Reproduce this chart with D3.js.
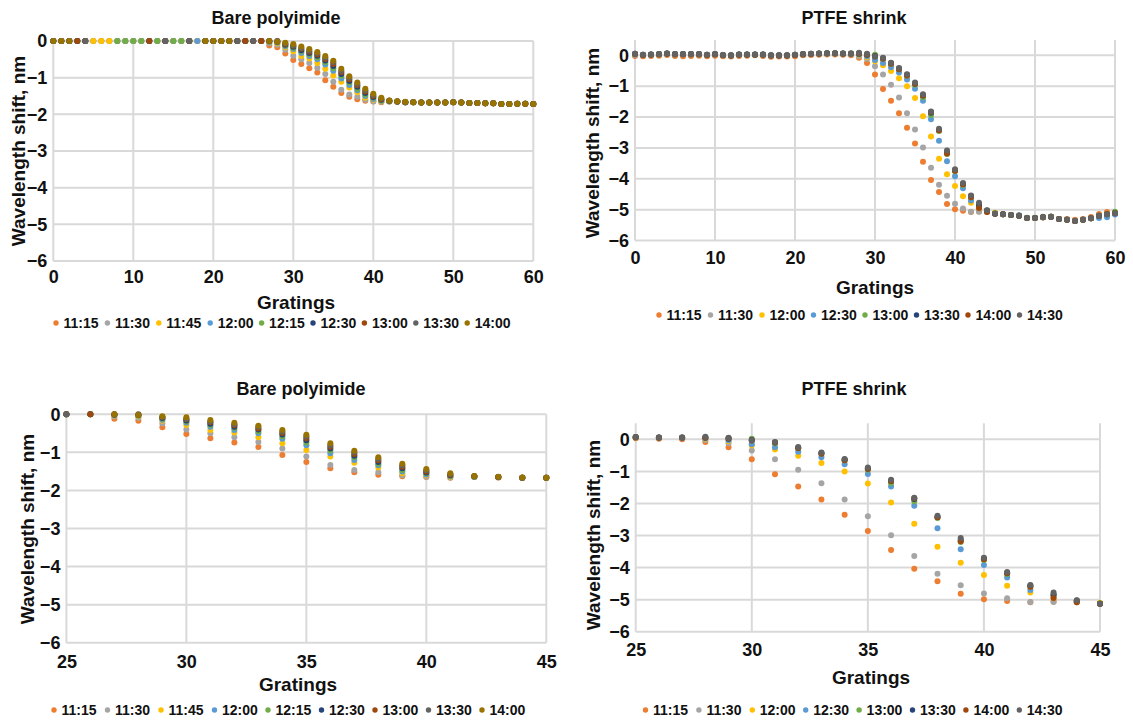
<!DOCTYPE html>
<html>
<head>
<meta charset="utf-8">
<script src="https://cdn.jsdelivr.net/npm/d3@7"></script>
<style>
  body { margin: 0; background: #fff; }
  svg text { font-family: "Liberation Sans", Arial, Helvetica, sans-serif; font-weight: bold; fill: #111; }
</style>
</head>
<body>
<svg id="chart" width="1133" height="721"></svg>
<script>
// ---- grating index (x) ----
const gratings = d3.range(0, 61);

// ---- tick values ----
const fullXTicks = [0, 10, 20, 30, 40, 50, 60];
const zoomXTicks = [25, 30, 35, 40, 45];
const shiftTicks = [-6, -5, -4, -3, -2, -1, 0];

// ---- Bare polyimide: wavelength shift (nm) per grating, one array per time ----
const bareTimes = ["11:15", "11:30", "11:45", "12:00", "12:15", "12:30", "13:00", "13:30", "14:00"];
const bareColors = ["#ED7D31", "#A5A5A5", "#FFC000", "#5B9BD5", "#70AD47", "#264478", "#9E480E", "#636363", "#997300"];

const bare1115 = [
  0, 0, 0, 0, 0, 0, 0, 0, 0, 0,
  0, 0, 0, 0, 0, 0, 0, 0, 0, 0,
  0, 0, 0, 0, 0, 0, 0, -0.12, -0.17, -0.34,
  -0.52, -0.63, -0.74, -0.86, -1.07, -1.25, -1.42, -1.52, -1.59, -1.63,
  -1.65, -1.67, -1.65, -1.66, -1.67, -1.67, -1.68, -1.68, -1.68, -1.68,
  -1.67, -1.68, -1.69, -1.69, -1.70, -1.70, -1.72, -1.72, -1.71, -1.71,
  -1.72];
const bare1130 = [
  0, 0, 0, 0, 0, 0, 0, 0, 0, 0,
  0, 0, 0, 0, 0, 0, 0, 0, 0, 0,
  0, 0, 0, 0, 0, 0, 0, -0.06, -0.10, -0.24,
  -0.40, -0.50, -0.60, -0.73, -0.90, -1.11, -1.33, -1.46, -1.52, -1.60,
  -1.64, -1.66, -1.65, -1.66, -1.67, -1.67, -1.68, -1.68, -1.68, -1.68,
  -1.67, -1.68, -1.69, -1.69, -1.70, -1.70, -1.72, -1.72, -1.71, -1.71,
  -1.72];
const bare1145 = [
  0, 0, 0, 0, 0, 0, 0, 0, 0, 0,
  0, 0, 0, 0, 0, 0, 0, 0, 0, 0,
  0, 0, 0, 0, 0, 0, 0, -0.03, -0.06, -0.17,
  -0.28, -0.41, -0.48, -0.60, -0.76, -0.94, -1.11, -1.27, -1.40, -1.55,
  -1.60, -1.64, -1.64, -1.65, -1.67, -1.67, -1.68, -1.68, -1.68, -1.68,
  -1.67, -1.68, -1.69, -1.69, -1.70, -1.70, -1.72, -1.72, -1.71, -1.71,
  -1.72];
const bare1200 = [
  0, 0, 0, 0, 0, null, null, null, 0, 0,
  0, 0, 0, 0, 0, 0, 0, 0, 0, 0,
  0, 0, 0, 0, 0, 0, 0, -0.02, -0.04, -0.14,
  -0.22, -0.33, -0.41, -0.50, -0.64, -0.81, -1.02, -1.20, -1.34, -1.50,
  -1.58, -1.63, -1.64, -1.65, -1.67, -1.67, -1.68, -1.68, -1.68, -1.68,
  -1.67, -1.68, -1.69, -1.69, -1.70, -1.70, -1.72, -1.72, -1.71, -1.71,
  -1.72];
const bare1215 = [
  0, 0, 0, 0, 0, null, null, null, 0, 0,
  0, 0, 0, 0, 0, 0, 0, 0, null, 0,
  0, 0, 0, 0, 0, 0, 0, -0.01, -0.03, -0.12,
  -0.19, -0.28, -0.36, -0.45, -0.58, -0.74, -0.95, -1.13, -1.30, -1.46,
  -1.55, -1.62, -1.64, -1.65, -1.67, -1.67, -1.68, -1.68, -1.68, -1.68,
  -1.67, -1.68, -1.69, -1.69, -1.70, -1.70, -1.72, -1.72, -1.71, -1.71,
  -1.72];
const bare1230 = [
  0, 0, 0, 0, 0, null, null, null, null, null,
  null, null, 0, null, 0, null, null, 0, null, 0,
  0, 0, 0, 0, 0, 0, 0, -0.01, -0.02, -0.10,
  -0.16, -0.25, -0.33, -0.40, -0.53, -0.68, -0.90, -1.09, -1.25, -1.42,
  -1.53, -1.60, -1.63, -1.65, -1.67, -1.67, -1.68, -1.68, -1.68, -1.68,
  -1.67, -1.68, -1.69, -1.69, -1.70, -1.70, -1.72, -1.72, -1.71, -1.71,
  -1.72];
const bare1300 = [
  0, 0, 0, 0, 0, null, null, null, null, null,
  null, null, 0, null, 0, null, null, 0, null, 0,
  0, 0, 0, 0, 0, 0, 0, 0, -0.01, -0.08,
  -0.13, -0.21, -0.29, -0.37, -0.49, -0.63, -0.85, -1.04, -1.21, -1.38,
  -1.50, -1.59, -1.63, -1.65, -1.67, -1.67, -1.68, -1.68, -1.68, -1.68,
  -1.67, -1.68, -1.69, -1.69, -1.70, -1.70, -1.72, -1.72, -1.71, -1.71,
  -1.72];
const bare1330 = [
  0, 0, 0, null, 0, null, null, null, null, null,
  null, null, null, null, 0, null, null, 0, null, 0,
  0, 0, 0, 0, null, 0, null, 0, 0, -0.07,
  -0.12, -0.19, -0.26, -0.33, -0.45, -0.58, -0.81, -1.00, -1.17, -1.34,
  -1.47, -1.57, -1.63, -1.65, -1.67, -1.67, -1.68, -1.68, -1.68, -1.68,
  -1.67, -1.68, -1.69, -1.69, -1.70, -1.70, -1.72, -1.72, -1.71, -1.71,
  -1.72];
const bare1400 = [
  0, 0, 0, null, null, null, null, null, null, null,
  null, null, null, null, null, null, null, null, null, 0,
  0, 0, 0, null, null, null, null, 0, -0.02, -0.05,
  -0.08, -0.15, -0.22, -0.30, -0.41, -0.54, -0.76, -0.96, -1.13, -1.30,
  -1.44, -1.55, -1.62, -1.64, -1.66, -1.67, -1.68, -1.68, -1.68, -1.68,
  -1.67, -1.68, -1.69, -1.69, -1.70, -1.70, -1.72, -1.72, -1.71, -1.71,
  -1.72];
const bareSeries = [bare1115, bare1130, bare1145, bare1200, bare1215, bare1230, bare1300, bare1330, bare1400];

// ---- PTFE shrink: wavelength shift (nm) per grating, one array per time ----
const ptfeTimes = ["11:15", "11:30", "12:00", "12:30", "13:00", "13:30", "14:00", "14:30"];
const ptfeColors = ["#ED7D31", "#A5A5A5", "#FFC000", "#5B9BD5", "#70AD47", "#264478", "#9E480E", "#636363"];

const ptfe1115 = [
  -0.02, -0.03, -0.02, -0.01, 0.01, -0.02, -0.03, -0.02, -0.01, -0.03,
  -0.01, -0.03, -0.04, -0.02, -0.01, 0.00, -0.02, -0.05, -0.04, -0.04,
  -0.03, 0.00, 0.01, 0.02, 0.03, 0.03, 0.02, 0.00, -0.08, -0.25,
  -0.62, -1.09, -1.47, -1.88, -2.35, -2.86, -3.45, -4.04, -4.43, -4.82,
  -4.99, -5.04, -5.08, -5.06, -5.08, -5.12, -5.15, -5.17, -5.20, -5.27,
  -5.27, -5.25, -5.23, -5.30, -5.30, -5.33, -5.30, -5.24, -5.14, -5.08,
  -5.10];
const ptfe1130 = [
  0.02, 0.01, 0.02, 0.03, 0.05, 0.03, 0.03, 0.03, 0.03, 0.01,
  0.03, 0.00, -0.01, 0.02, 0.02, 0.02, 0.02, -0.01, -0.01, -0.01,
  0.01, 0.03, 0.04, 0.05, 0.06, 0.06, 0.05, 0.03, -0.02, -0.12,
  -0.35, -0.62, -0.95, -1.37, -1.88, -2.40, -2.99, -3.64, -4.19, -4.55,
  -4.81, -4.96, -5.07, -5.07, -5.03, -5.12, -5.15, -5.17, -5.20, -5.27,
  -5.27, -5.25, -5.23, -5.30, -5.33, -5.37, -5.33, -5.28, -5.20, -5.15,
  -5.12];
const ptfe1200 = [
  0.02, 0.01, 0.02, 0.03, 0.05, 0.03, 0.03, 0.03, 0.03, 0.01,
  0.03, 0.00, -0.01, 0.02, 0.02, 0.02, 0.02, -0.01, -0.01, -0.01,
  0.01, 0.03, 0.04, 0.05, 0.06, 0.06, 0.05, 0.04, 0.02, -0.06,
  -0.19, -0.32, -0.51, -0.74, -1.00, -1.38, -1.97, -2.63, -3.35, -3.85,
  -4.23, -4.57, -4.78, -4.95, -5.04, -5.10, -5.15, -5.17, -5.20, -5.27,
  -5.27, -5.25, -5.23, -5.30, -5.33, -5.37, -5.33, -5.28, -5.20, -5.15,
  -5.12];
const ptfe1230 = [
  0.02, 0.01, 0.02, 0.03, 0.05, 0.03, 0.03, 0.03, 0.03, 0.01,
  0.03, 0.00, -0.01, 0.02, 0.02, 0.02, 0.02, -0.01, -0.01, -0.01,
  0.01, 0.03, 0.04, 0.05, 0.06, 0.06, 0.05, 0.04, 0.03, -0.03,
  -0.15, -0.25, -0.39, -0.56, -0.78, -1.08, -1.47, -2.07, -2.77, -3.43,
  -3.92, -4.31, -4.70, -4.88, -5.03, -5.13, -5.15, -5.17, -5.18, -5.26,
  -5.26, -5.23, -5.24, -5.30, -5.33, -5.36, -5.33, -5.28, -5.27, -5.25,
  -5.16];
const ptfe1300 = [
  0.05, 0.02, 0.03, 0.04, 0.06, 0.04, 0.04, 0.04, 0.04, 0.02,
  0.04, 0.01, 0.00, 0.03, 0.03, 0.03, 0.03, 0.00, 0.00, 0.00,
  0.02, 0.04, 0.05, 0.06, 0.07, 0.07, 0.06, 0.06, 0.05, 0.03,
  0.02, -0.12, -0.28, -0.45, -0.66, -0.95, -1.36, -1.93, -2.45, -3.20,
  -3.76, -4.20, -4.60, -4.85, -5.04, -5.12, -5.15, -5.17, -5.20, -5.27,
  -5.27, -5.25, -5.23, -5.30, -5.33, -5.37, -5.33, -5.28, -5.20, -5.15,
  -5.07];
const ptfe1330 = [
  0.05, 0.02, 0.03, 0.04, 0.06, 0.04, 0.04, 0.04, 0.04, 0.02,
  0.04, 0.01, 0.00, 0.03, 0.03, 0.03, 0.03, 0.00, 0.00, 0.00,
  0.02, 0.04, 0.05, 0.06, 0.07, 0.07, 0.06, 0.06, 0.05, 0.02,
  -0.02, -0.10, -0.26, -0.43, -0.63, -0.92, -1.30, -1.86, -2.42, -3.14,
  -3.72, -4.17, -4.56, -4.85, -5.05, -5.13, -5.15, -5.17, -5.20, -5.27,
  -5.27, -5.25, -5.23, -5.30, -5.33, -5.37, -5.33, -5.28, -5.20, -5.15,
  -5.12];
const ptfe1400 = [
  0.04, 0.01, 0.02, 0.03, 0.05, 0.03, 0.03, 0.03, 0.03, 0.01,
  0.03, 0.00, -0.01, 0.02, 0.02, 0.02, 0.02, -0.01, -0.01, -0.01,
  0.01, 0.03, 0.04, 0.05, 0.06, 0.06, 0.05, 0.05, 0.06, 0.03,
  -0.04, -0.10, -0.27, -0.45, -0.65, -0.92, -1.30, -1.84, -2.43, -3.18,
  -3.74, -4.18, -4.60, -4.95, -5.08, -5.13, -5.15, -5.17, -5.20, -5.27,
  -5.27, -5.25, -5.23, -5.30, -5.33, -5.37, -5.33, -5.28, -5.20, -5.15,
  -5.12];
const ptfe1430 = [
  0.05, 0.02, 0.03, 0.04, 0.06, 0.04, 0.04, 0.04, 0.04, 0.02,
  0.04, 0.01, 0.00, 0.03, 0.03, 0.03, 0.03, 0.00, 0.00, 0.00,
  0.02, 0.04, 0.05, 0.06, 0.07, 0.07, 0.06, 0.06, 0.08, 0.05,
  -0.04, -0.08, -0.24, -0.41, -0.61, -0.88, -1.26, -1.82, -2.38, -3.08,
  -3.69, -4.14, -4.54, -4.78, -5.02, -5.13, -5.15, -5.17, -5.20, -5.27,
  -5.27, -5.25, -5.23, -5.30, -5.33, -5.37, -5.33, -5.28, -5.20, -5.15,
  -5.12];
const ptfeSeries = [ptfe1115, ptfe1130, ptfe1200, ptfe1230, ptfe1300, ptfe1330, ptfe1400, ptfe1430];

// ---- panel layout ----
const svg = d3.select("#chart");
const GRID = "#d9d9d9";

const panels = [
  { title: "Bare polyimide", times: bareTimes, colors: bareColors, series: bareSeries,
    xDomain: [0, 60], xTicks: fullXTicks, yDomain: [-6, 0],
    left: 53.3, right: 533.3, top: 41, bottom: 261,
    titleX: 276, titleY: 18, xLabelX: 296, xLabelY: 302, yLabelX: 18, yLabelY: 151,
    tickOffset: 16, legendX: 56, legendY: 323, legendPitch: 51.4 },
  { title: "PTFE shrink", times: ptfeTimes, colors: ptfeColors, series: ptfeSeries,
    xDomain: [0, 60], xTicks: fullXTicks, yDomain: [-6, 0.5],
    left: 635, right: 1115, top: 39.9, bottom: 240.5,
    titleX: 854, titleY: 18, xLabelX: 875, xLabelY: 287, yLabelX: 592, yLabelY: 143,
    tickOffset: 17.5, legendX: 659, legendY: 315, legendPitch: 51.5 },
  { title: "Bare polyimide", times: bareTimes, colors: bareColors, series: bareSeries,
    xDomain: [25, 45], xTicks: zoomXTicks, yDomain: [-6, 0],
    left: 66.4, right: 546.3, top: 414.3, bottom: 642.7,
    titleX: 301, titleY: 389, xLabelX: 298, xLabelY: 684, yLabelX: 27, yLabelY: 529,
    tickOffset: 19, legendX: 54, legendY: 710, legendPitch: 53.5 },
  { title: "PTFE shrink", times: ptfeTimes, colors: ptfeColors, series: ptfeSeries,
    xDomain: [25, 45], xTicks: zoomXTicks, yDomain: [-6, 0.5],
    left: 635.7, right: 1100, top: 423.3, bottom: 631.7,
    titleX: 854, titleY: 389, xLabelX: 871, xLabelY: 677, yLabelX: 593, yLabelY: 535,
    tickOffset: 17.6, legendX: 645.5, legendY: 710, legendPitch: 53.4 }
];

const TICK_FS = 18;

panels.forEach(p => {
  const g = svg.append("g");
  const x = d3.scaleLinear().domain(p.xDomain).range([p.left, p.right]);
  const y = d3.scaleLinear().domain(p.yDomain).range([p.bottom, p.top]);

  // gridlines
  g.append("g").selectAll("line").data(p.xTicks).join("line")
    .attr("x1", d => x(d)).attr("x2", d => x(d))
    .attr("y1", y(p.yDomain[1])).attr("y2", y(p.yDomain[0]))
    .attr("stroke", GRID).attr("stroke-width", 2);
  g.append("g").selectAll("line").data(shiftTicks).join("line")
    .attr("x1", x(p.xDomain[0])).attr("x2", x(p.xDomain[1]))
    .attr("y1", d => y(d)).attr("y2", d => y(d))
    .attr("stroke", GRID).attr("stroke-width", 2);

  // axes
  const xAxis = g.append("g").attr("transform", `translate(0,${p.bottom})`)
    .call(d3.axisBottom(x).tickValues(p.xTicks).tickSize(0)
      .tickPadding(p.tickOffset - 0.355 * TICK_FS).tickFormat(d3.format("d")));
  const yAxis = g.append("g").attr("transform", `translate(${p.left},0)`)
    .call(d3.axisLeft(y).tickValues(shiftTicks).tickSize(0).tickPadding(6)
      .tickFormat(d3.format("d")));
  [xAxis, yAxis].forEach(a => {
    a.select(".domain").remove();
    a.selectAll("text").attr("font-size", TICK_FS)
      .attr("font-family", "'Liberation Sans', Arial, sans-serif")
      .attr("font-weight", "bold").attr("fill", "#111");
  });

  // points, one group per time (later times drawn on top)
  p.series.forEach((vals, si) => {
    const pts = gratings.map((gr, i) => ({ gr, v: vals[i] }))
      .filter(d => d.v !== null && d.gr >= p.xDomain[0] && d.gr <= p.xDomain[1]);
    g.append("g").selectAll("circle").data(pts).join("circle")
      .attr("cx", d => x(d.gr)).attr("cy", d => y(d.v))
      .attr("r", 3).attr("fill", p.colors[si]);
  });

  // titles
  g.append("text").attr("x", p.titleX).attr("y", p.titleY)
    .attr("text-anchor", "middle").attr("dominant-baseline", "central")
    .attr("font-size", 18).text(p.title);
  g.append("text").attr("x", p.xLabelX).attr("y", p.xLabelY)
    .attr("text-anchor", "middle").attr("dominant-baseline", "central")
    .attr("font-size", 19).text("Gratings");
  g.append("text")
    .attr("transform", `translate(${p.yLabelX},${p.yLabelY}) rotate(-90)`)
    .attr("text-anchor", "middle").attr("dominant-baseline", "central")
    .attr("font-size", 19).text("Wavelength shift, nm");

  // legend
  const lg = g.append("g");
  p.times.forEach((t, i) => {
    const lx = p.legendX + i * p.legendPitch;
    lg.append("circle").attr("cx", lx).attr("cy", p.legendY).attr("r", 2.7)
      .attr("fill", p.colors[i]);
    lg.append("text").attr("x", lx + 7.5).attr("y", p.legendY)
      .attr("dominant-baseline", "central").attr("font-size", 14)
      .attr("fill", "#262626").text(t);
  });
});
</script>
</body>
</html>
